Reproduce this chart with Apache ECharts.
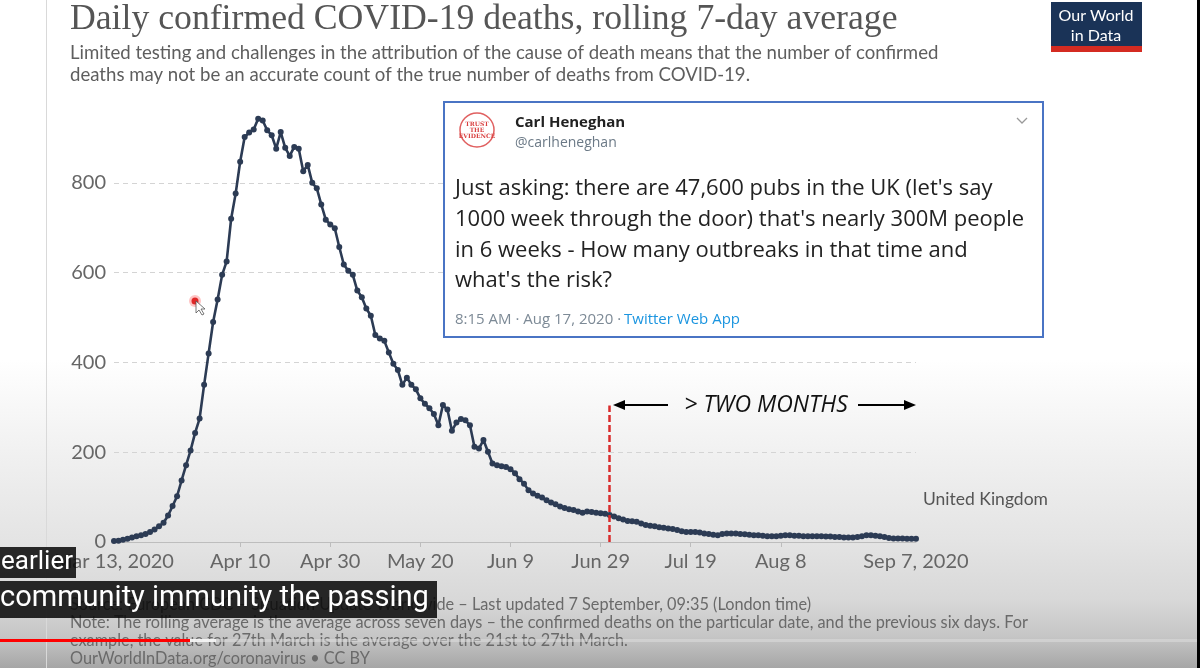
<!DOCTYPE html>
<html><head><meta charset="utf-8">
<script src="https://cdn.jsdelivr.net/npm/echarts@6/dist/echarts.min.js"></script>
<style>
html,body{margin:0;padding:0;width:1200px;height:668px;overflow:hidden;background:#fff}
#c{width:1200px;height:668px;background:linear-gradient(180deg,#ffffff 0px,#ffffff 360px,#f1f1f1 450px,#e4e4e4 540px,#d8d8d8 600px,#c6c6c6 636px,#a6a6a6 668px)}
</style>
</head><body><div id="c"></div>
<script>
// ---- data ----
const startDate = [2020, 2, 13]; // Mar 13, 2020 (daily series)
const deaths = [
 2,3,5,7,10,13,15,18,22,28,35,43,59,80,102,137,171,204,243,275,
 350,420,490,540,595,625,720,776,847,902,912,919,943,939,917,906,876,913,878,860,
 880,876,826,840,800,788,752,718,707,699,657,618,604,595,560,545,520,504,461,453,
 448,422,397,383,350,366,350,340,320,308,298,285,260,305,295,248,266,274,271,260,
 212,208,227,201,175,171,169,167,162,153,140,130,115,108,103,99,93,88,84,79,
 76,73,71,68,65,68,67,65,64,63,60,57,53,50,47,46,45,41,38,36,
 35,33,32,30,29,27,24,22,22,22,21,19,18,16,15,18,19,19,19,18,
 17,16,15,15,14,13,13,13,14,15,15,14,14,13,13,13,13,13,12,12,
 11,11,10,10,10,11,13,15,15,14,13,11,9,8,8,8,7,7,7
];
const tickIndex = [0, 28, 48, 68, 88, 108, 128, 148, 178];
const tickText = ['Mar 13, 2020','Apr 10','Apr 30','May 20','Jun 9','Jun 29','Jul 19','Aug 8','Sep 7, 2020'];
const yTicks = [0, 200, 400, 600, 800];
const markerIndex = 110;   // Jul 1 – start of "> TWO MONTHS"
const markerTop = 304;
const seriesName = 'United Kingdom';

const titleText = 'Daily confirmed COVID-19 deaths, rolling 7-day average';
const subtitleLines = [
 'Limited testing and challenges in the attribution of the cause of death means that the number of confirmed',
 'deaths may not be an accurate count of the true number of deaths from COVID-19.'
];
const footerLines = [
 'Source: European CDC \u2013 Situation Update Worldwide \u2013 Last updated 7 September, 09:35 (London time)',
 'Note: The rolling average is the average across seven days \u2013 the confirmed deaths on the particular date, and the previous six days. For',
 'example, the value for 27th March is the average over the 21st to 27th March.',
 'OurWorldInData.org/coronavirus \u2022 CC BY'
];
const tweetLines = [
 "Just asking: there are 47,600 pubs in the UK (let's say",
 "1000 week through the door) that's nearly 300M people",
 "in 6 weeks - How many outbreaks in that time and",
 "what's the risk?"
];
const captionLines = ['earlier', 'community immunity the passing'];

// ---- build ----
const months = ['Jan','Feb','Mar','Apr','May','Jun','Jul','Aug','Sep','Oct','Nov','Dec'];
const cats = deaths.map((_, i) => {
  const d = new Date(startDate[0], startDate[1], startDate[2] + i);
  return months[d.getMonth()] + ' ' + d.getDate() + ', ' + d.getFullYear();
});

function txt(x, y, text, font, fill, align, extra) {
  return Object.assign({
    type: 'text', x: x, y: y, z: 100,
    style: { text: text, font: font, fill: fill, align: align || 'left', verticalAlign: 'middle',
             textAlign: align || 'left', textVerticalAlign: 'middle' }
  }, extra || {});
}

const g = [];
// page edge lines
g.push({type:'rect', z:1, shape:{x:46,y:0,width:1,height:668}, style:{fill:'#d9d9d9'}});
g.push({type:'rect', z:200, shape:{x:1197,y:0,width:3,height:668}, style:{fill:'#000'}});
// title & subtitle
g.push(txt(70, 20, titleText, '35.7px "Liberation Serif"', '#555'));
subtitleLines.forEach((s, i) => g.push(txt(70, 53 + i * 22, s, '18.6px Lato', '#5e5e5e')));
// logo
g.push({type:'rect', z:100, shape:{x:1051,y:2,width:91,height:45}, style:{fill:'#1a3357'}});
g.push({type:'rect', z:100, shape:{x:1051,y:46,width:91,height:6}, style:{fill:'#d42b21'}});
g.push(txt(1096, 16, 'Our World', '16px Lato', '#fff', 'center'));
g.push(txt(1096, 36, 'in Data', '16px Lato', '#fff', 'center'));
// series label
g.push(txt(923, 499, seriesName, '17.5px Lato', '#555'));
// footer
footerLines.forEach((s, i) => g.push(txt(70, 605 + i * 18, s, '16.3px Lato', '#6a6a6a')));
// tweet card
g.push({type:'rect', z:100, shape:{x:444,y:102,width:599,height:235}, style:{fill:'#fff', stroke:'#4a74c4', lineWidth:2}});
g.push({type:'circle', z:101, shape:{cx:477,cy:130,r:17}, style:{fill:'#fff', stroke:'#e06060', lineWidth:1.5}});
g.push(txt(477, 130, 'TRUST\nTHE\nEVIDENCE', 'bold 6px "DejaVu Serif"', '#d94040', 'center', {z:102}));
g.push(txt(515, 123, 'Carl Heneghan', 'bold 15px "Open Sans"', '#222'));
g.push(txt(515, 143, '@carlheneghan', '14px "Open Sans"', '#6b7986'));
g.push({type:'polyline', z:101, shape:{points:[[1017,118],[1022,123],[1027,118]]}, style:{stroke:'#999', lineWidth:1.3, fill:null}});
tweetLines.forEach((s, i) => g.push(txt(455, 189 + i * 30.7, s, '22px "Open Sans"', '#222')));
g.push(txt(455, 320, '8:15 AM \u00b7 Aug 17, 2020 \u00b7', '15px "Open Sans"', '#7d8a96'));
g.push(txt(624, 320, 'Twitter Web App', '15px "Open Sans"', '#1b95e0'));
// annotation arrows
g.push({type:'line', z:100, shape:{x1:622,y1:405,x2:668,y2:405}, style:{stroke:'#000', lineWidth:2}});
g.push({type:'polygon', z:100, shape:{points:[[613,405],[625,400],[625,410]]}, style:{fill:'#000'}});
g.push({type:'line', z:100, shape:{x1:858,y1:405,x2:906,y2:405}, style:{stroke:'#000', lineWidth:2}});
g.push({type:'polygon', z:100, shape:{points:[[916,405],[904,400],[904,410]]}, style:{fill:'#000'}});
g.push(txt(766, 405, '> TWO MONTHS', 'italic 23px "Open Sans"', '#111', 'center'));
// cursor dot
g.push({type:'circle', z:100, shape:{cx:195,cy:301,r:6}, style:{fill:'rgba(255,60,60,0.3)'}});
g.push({type:'circle', z:101, shape:{cx:195,cy:301,r:3.5}, style:{fill:'#e02828'}});
g.push({type:'polygon', z:102, shape:{points:[[196,301],[196,313],[199,310],[202,315],[204,314],[201,309],[205,309]]}, style:{fill:'#fff', stroke:'#555', lineWidth:0.8}});
// video captions
g.push({type:'rect', z:150, shape:{x:0,y:547,width:76,height:31}, style:{fill:'rgba(8,8,8,0.86)'}});
g.push(txt(1, 562, captionLines[0], '26px Roboto', '#fff', 'left', {z:151}));
g.push({type:'rect', z:150, shape:{x:0,y:581,width:437,height:37}, style:{fill:'rgba(8,8,8,0.86)'}});
g.push(txt(0, 599, captionLines[1], '29px Roboto', '#fff', 'left', {z:151}));
// progress bar
g.push({type:'rect', z:150, shape:{x:0,y:639,width:1200,height:3}, style:{fill:'rgba(220,220,220,0.55)'}});
g.push({type:'rect', z:151, shape:{x:190,y:639,width:26,height:3}, style:{fill:'rgba(245,245,245,0.9)'}});
g.push({type:'rect', z:152, shape:{x:0,y:639,width:190,height:3}, style:{fill:'#f00'}});

const chart = echarts.init(document.getElementById('c'), null, {renderer:'canvas'});
chart.setOption({
  backgroundColor: 'transparent',
  animation: false,
  grid: {left: 114, right: 284, top: 111, bottom: 126, containLabel: false},
  xAxis: {
    type: 'category', data: cats, boundaryGap: false,
    axisLine: {lineStyle: {color: '#bdbdbd', width: 1}},
    axisTick: {interval: (i) => tickIndex.slice(1, -1).indexOf(i) >= 0, length: 5, lineStyle: {color: '#bdbdbd'}},
    axisLabel: {
      interval: (i) => tickIndex.indexOf(i) >= 0,
      formatter: (v, i) => tickText[tickIndex.indexOf(i)] || '',
      color: '#666', fontSize: 20, fontFamily: 'Lato', margin: 10
    },
    splitLine: {show: false}
  },
  yAxis: {
    type: 'value', min: yTicks[0], max: 960, interval: yTicks[1] - yTicks[0],
    axisLine: {show: false}, axisTick: {show: false},
    axisLabel: {color: '#666', fontSize: 20, fontFamily: 'Lato', margin: 8, showMaxLabel: false,
                formatter: (v) => yTicks.indexOf(v) >= 0 ? String(v) : ''},
    splitLine: {show: true, showMinLine: false, showMaxLine: false, lineStyle: {color: '#d4d4d4', type: [5, 4], width: 1}}
  },
  series: [{
    name: seriesName, type: 'line', data: deaths,
    symbol: 'circle', symbolSize: 6, showAllSymbol: true,
    lineStyle: {color: '#2c3b54', width: 2.6},
    itemStyle: {color: '#2c3b54'},
    z: 3,
    markLine: {
      silent: true, symbol: 'none', label: {show: false},
      lineStyle: {color: '#d92b2b', type: [7, 3], width: 2.5},
      data: [[{coord: [cats[markerIndex], 0]}, {coord: [cats[markerIndex], markerTop]}]]
    }
  }],
  graphic: g
});
</script>
</body></html>
